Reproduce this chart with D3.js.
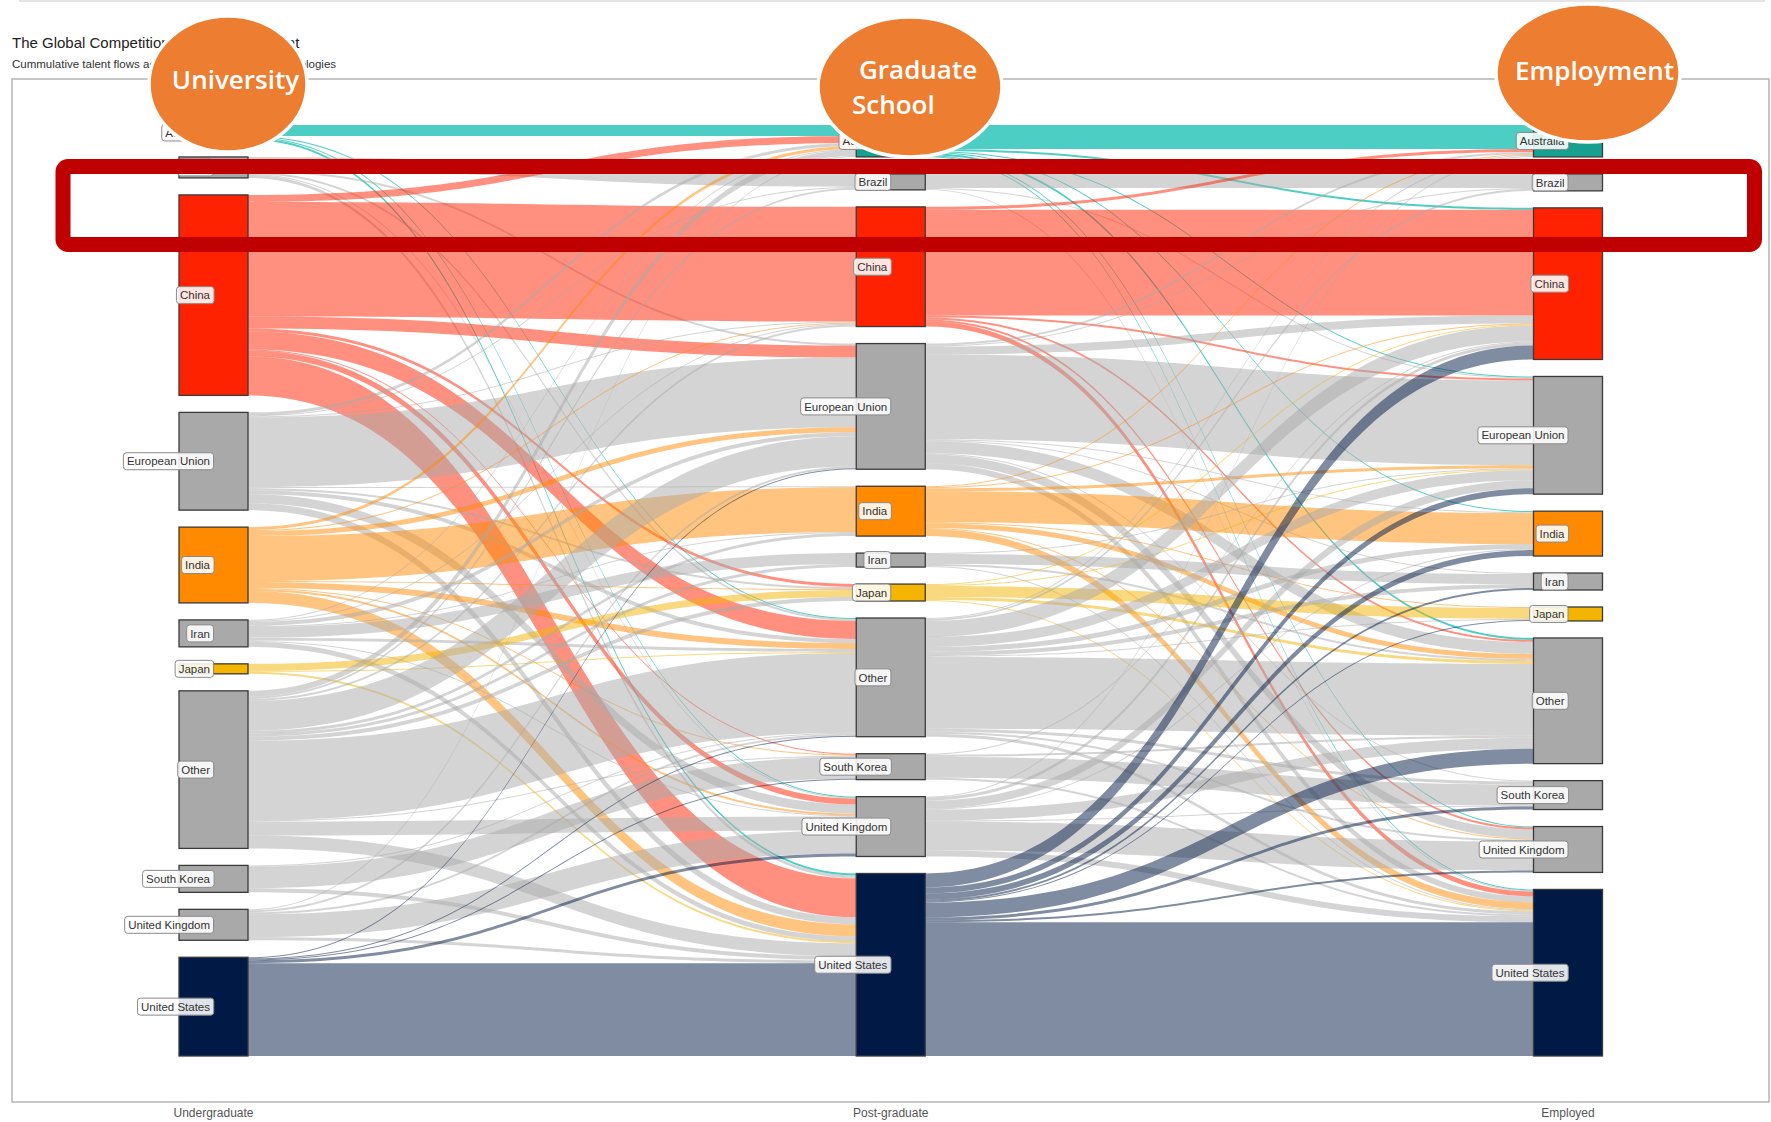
<!DOCTYPE html>
<html><head><meta charset="utf-8">
<script src="https://cdn.jsdelivr.net/npm/d3@7"></script>
<style>
body{margin:0;background:#fff;}
svg{display:block;}
</style></head><body>
<svg id="chart" width="1771" height="1122"></svg>
<script>
// ---------------- DATA ----------------
const stages = ["Undergraduate", "Post-graduate", "Employed"];
const countries = ["Australia","Brazil","China","European Union","India","Iran","Japan","Other","South Korea","United Kingdom","United States"];
// rows: undergraduate country, columns: post-graduate country (order of `countries`)
const undergradToPostgrad = [
  [11, 0,   0,  0,  0,  0, 0,  1,  0,  1,  2],
  [ 0,13,   0,  2,  0,  0, 0,  2,  0,  1,  3],
  [ 7, 0, 115, 12,  0,  0, 3, 18,  1,  6, 39],
  [ 3, 1,   1, 70,  1,  0, 2,  4,  0,  9,  7],
  [ 3, 0,   1,  5, 45,  0, 1,  6,  1,  2, 12],
  [ 1, 0,   1,  4,  1, 11, 0,  3,  0,  1,  5],
  [ 0, 0,   0,  0,  0,  0, 7,  1,  0,  0,  2],
  [ 6, 2,   2, 30,  3,  3, 4, 80,  1, 14, 13],
  [ 0, 0,   0,  0,  0,  0, 0,  1, 22,  0,  4],
  [ 1, 0,   0,  2,  0,  0, 0,  2,  0, 23,  3],
  [ 0, 0,   0,  1,  0,  0, 0,  1,  1,  3, 93]
];
// rows: post-graduate country, columns: employment country
const postgradToEmployed = [
  [24, 0,   2,  1,  1,  0,  0,  2,  0,  1,   1],
  [ 0,14,   0,  1,  0,  0,  0,  0,  0,  0,   1],
  [ 3, 0, 106,  2,  0,  0,  0,  2,  0,  2,   5],
  [ 2, 1,   8, 85,  1,  1,  0, 12,  1,  9,   6],
  [ 1, 0,   1,  3, 31,  0,  1,  5,  0,  1,   7],
  [ 0, 0,   0,  1,  0, 10,  0,  2,  0,  0,   1],
  [ 0, 0,   1,  1,  0,  0, 11,  3,  0,  0,   1],
  [ 1, 2,  16, 10,  5,  4,  1, 72,  3,  2,   3],
  [ 0, 0,   1,  0,  0,  0,  0,  2, 21,  0,   2],
  [ 1, 0,   3,  8,  1,  0,  0, 11,  1, 29,   6],
  [ 0, 0,  14,  6,  6,  2,  1, 15,  3,  2, 134]
];
const titleText = "The Global Competition for Scientific Talent";
const subtitleText = "Cummulative talent flows across the key emerging technologies";
const bubbleLabels = [["University"], ["Graduate", "School"], ["Employment"]];

// ---------------- STYLE ----------------
const nodeColor = {"Australia":"#17a08e","China":"#ff2200","India":"#ff8a00","Japan":"#f4b400","United States":"#001a45"};
const grayNode = "#a9a9a9";
const linkFill = c => c === "Australia" ? "#2ec6ba" : (nodeColor[c] || grayNode);
const linkOpacity = c => c === "Australia" ? 0.85 : 0.5;
const chartFont = "'Liberation Sans', Arial, Helvetica, sans-serif";

const svg = d3.select("#chart");
const nodeWidth = 69, nodePad = 17;
const yTop = 125, yBottom = 1056;
const x = d3.scalePoint().domain(stages).range([213.5, 1568]);

// top faint line and panel
svg.append("line").attr("x1",19).attr("x2",1765).attr("y1",1).attr("y2",1).attr("stroke","#dcdcdc").attr("stroke-width",1.5);
svg.append("rect").attr("x",12).attr("y",79).attr("width",1757).attr("height",1023)
  .attr("fill","none").attr("stroke","#b4b4b4").attr("stroke-width",1.5);

svg.append("text").attr("x",12).attr("y",48).attr("font-family",chartFont).attr("font-size",15)
  .attr("fill","#222").text(titleText);
svg.append("text").attr("x",12).attr("y",68).attr("font-family",chartFont).attr("font-size",11.5)
  .attr("fill","#333").text(subtitleText);

// ---------------- LAYOUT ----------------
const matrices = [undergradToPostgrad, postgradToEmployed];
const nodeVals = [
  undergradToPostgrad.map(r => d3.sum(r)),
  countries.map((c, j) => d3.sum(undergradToPostgrad, r => r[j])),
  countries.map((c, j) => d3.sum(postgradToEmployed, r => r[j]))
];
const total = d3.max(nodeVals, v => d3.sum(v));
const k = d3.scaleLinear().domain([0, total])
  .range([0, (yBottom - yTop) - nodePad * (countries.length - 1)]);

const nodes = stages.map((s, si) => {
  let y = yTop;
  return countries.map((c, ci) => {
    const h = k(nodeVals[si][ci]);
    const n = {stage: s, si, ci, name: c, y0: y, y1: y + h, x0: x(s) - nodeWidth / 2, x1: x(s) + nodeWidth / 2};
    y += h + nodePad;
    return n;
  });
});

const links = [];
matrices.forEach((m, mi) => {
  const src = nodes[mi], tgt = nodes[mi + 1];
  const outOff = src.map(n => n.y0);
  const inOff = tgt.map(n => n.y0);
  const local = [];
  m.forEach((row, i) => row.forEach((v, j) => {
    if (!v) return;
    const w = k(v);
    const l = {mi, i, j, v, w, sy: outOff[i], src: src[i], tgt: tgt[j]};
    outOff[i] += w;
    local.push(l);
  }));
  countries.forEach((c, j) => countries.forEach((c2, i) => {
    const l = local.find(L => L.i === i && L.j === j);
    if (l) { l.ty = inOff[j]; inOff[j] += l.w; }
  }));
  links.push(...local);
});

function ribbon(l) {
  const x0 = l.src.x1, x1 = l.tgt.x0, xm = (x0 + x1) / 2;
  const p = d3.path();
  p.moveTo(x0, l.sy);
  p.bezierCurveTo(xm, l.sy, xm, l.ty, x1, l.ty);
  p.lineTo(x1, l.ty + l.w);
  p.bezierCurveTo(xm, l.ty + l.w, xm, l.sy + l.w, x0, l.sy + l.w);
  p.closePath();
  return p.toString();
}

// ---------------- DRAW ----------------
svg.append("g").selectAll("path").data(links).join("path")
  .attr("d", ribbon)
  .attr("fill", d => linkFill(d.src.name))
  .attr("fill-opacity", d => linkOpacity(d.src.name));

const allNodes = nodes.flat();
svg.append("g").selectAll("rect").data(allNodes).join("rect")
  .attr("x", d => d.x0).attr("y", d => d.y0)
  .attr("width", nodeWidth).attr("height", d => Math.max(1, d.y1 - d.y0))
  .attr("fill", d => nodeColor[d.name] || grayNode)
  .attr("stroke", "#3a3a3a").attr("stroke-width", 1.3);

const lab = svg.append("g").selectAll("g").data(allNodes).join("g")
  .attr("transform", d => `translate(${x(d.stage)},${(d.y0 + d.y1) / 2})`);
lab.append("rect").attr("class", "bg");
lab.append("text")
  .attr("x", -3.5).attr("dy", "0.36em").attr("text-anchor", "end")
  .attr("font-family", chartFont).attr("font-size", 11.5).attr("fill", "#333")
  .text(d => d.name);
lab.each(function () {
  const g = d3.select(this);
  const bb = g.select("text").node().getBBox();
  g.select("rect.bg").attr("x", bb.x - 3.5).attr("y", -8.5).attr("width", bb.width + 7).attr("height", 17)
    .attr("rx", 3).attr("fill", "#ffffff").attr("fill-opacity", 0.88)
    .attr("stroke", "#8a8a8a").attr("stroke-width", 1);
});

// stage axis labels
svg.append("g").selectAll("text").data(stages).join("text")
  .attr("x", d => x(d)).attr("y", 1117).attr("text-anchor", "middle")
  .attr("font-family", chartFont).attr("font-size", 12).attr("fill", "#555")
  .text(d => d);

// red highlight box
svg.append("rect").attr("x", 63).attr("y", 166.5).attr("width", 1691.5).attr("height", 78)
  .attr("rx", 5).attr("fill", "none").attr("stroke", "#c00000").attr("stroke-width", 15);

// orange bubbles
const bubbles = [
  {cx: 228, cy: 84, rx: 79, ry: 68, lines: bubbleLabels[0], tx: 235.5, ty: [89], anchor: "middle"},
  {cx: 910, cy: 87, rx: 92, ry: 70, lines: bubbleLabels[1], tx: [859, 852], ty: [79, 114], anchor: "start"},
  {cx: 1588, cy: 73, rx: 92, ry: 69, lines: bubbleLabels[2], tx: 1515, ty: [80], anchor: "start"}
];
const bg = svg.append("g").selectAll("g").data(bubbles).join("g");
bg.append("ellipse").attr("cx", d => d.cx).attr("cy", d => d.cy).attr("rx", d => d.rx).attr("ry", d => d.ry)
  .attr("fill", "#ed7d31").attr("stroke", "#ffffff").attr("stroke-width", 3.5);
bg.each(function (d) {
  const g = d3.select(this);
  d.lines.forEach((t, i) => {
    g.append("text")
      .attr("x", Array.isArray(d.tx) ? d.tx[i] : d.tx).attr("y", d.ty[i])
      .attr("text-anchor", d.anchor)
      .attr("font-family", "'Open Sans', 'Noto Sans', sans-serif").attr("font-weight", 600)
      .attr("font-size", 26).attr("fill", "#ffffff").text(t);
  });
});
</script>
</body></html>
